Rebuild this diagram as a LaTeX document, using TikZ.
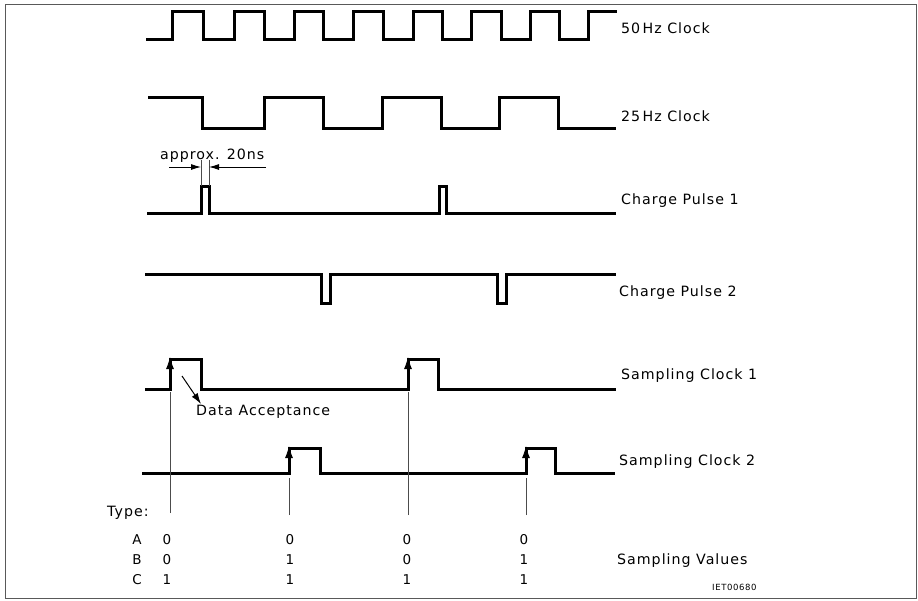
\documentclass[tikz,border=0pt]{standalone}
\usepackage{fontspec}
\setmainfont{DejaVu Sans}[LetterSpace=7]
\usetikzlibrary{arrows.meta}
\begin{document}
\begin{tikzpicture}[x=1pt,y=-1pt,
  sig/.style={line width=3pt, line join=miter, line cap=rect},
  thinline/.style={line width=0.8pt, black!70},
  edgearrow/.style={line width=0.8pt, -{Latex[length=12pt,width=8pt]}},
  lbl/.style={anchor=west, inner sep=0pt, font=\fontsize{14.2}{16}\selectfont},
  val/.style={inner sep=0pt, font=\fontsize{13.5}{15}\selectfont},
  dimarrow/.style={line width=0.9pt, -{Latex[length=10pt,width=6pt]}}]
\useasboundingbox (0,0) rectangle (918,600);
\draw[line width=1pt, black!65] (5,4) rectangle (916,598);

% 50 Hz clock
\draw[sig] (147,39) -- (172,39) |- (203,11) |- (234,39) |- (264,11) |- (294,39)
  |- (323,11) |- (353,39) |- (383,11) |- (413,39) |- (442,11) |- (471,39)
  |- (501,11) |- (530,39) |- (559,11) |- (588,39) |- (615,11);
% 25 Hz clock
\draw[sig] (149,97) -- (202,97) |- (264,128) |- (323,97) |- (382,128) |- (441,97)
  |- (499,128) |- (558,97) |- (614,128);
% Charge pulse 1
\draw[sig] (148,213) -- (201,213) |- (209,186) |- (439,213) |- (446,186) |- (614,213);
% Charge pulse 2
\draw[sig] (146,274) -- (321,274) |- (330,303) |- (497,274) |- (506,303) |- (614,274);
% Sampling clock 1
\draw[sig] (146,389) -- (170,389) |- (201,359) |- (408,389) |- (438,359) |- (614,389);
% Sampling clock 2
\draw[sig] (143,473) -- (289,473) |- (320,448) |- (526,473) |- (555,448) |- (613,473);

% sampling instants
\coordinate (s1b) at (170,513); \coordinate (s1t) at (170,357);
\coordinate (s2b) at (289,515); \coordinate (s2t) at (289,446);
\coordinate (s3b) at (408,515); \coordinate (s3t) at (408,357);
\coordinate (s4b) at (526,515); \coordinate (s4t) at (526,446);
\draw[thinline] (s1b) -- (170,392);
\draw[thinline] (s3b) -- (408,392);
\draw[thinline] (s2b) -- (289,478);
\draw[thinline] (s4b) -- (526,478);
\draw[edgearrow] (170,385) -- (s1t);
\draw[edgearrow] (408,385) -- (s3t);
\draw[edgearrow] (289,470) -- (s2t);
\draw[edgearrow] (526,470) -- (s4t);

% approx. 20ns dimension
\coordinate (e1t) at (201,160); \coordinate (e1b) at (201,186);
\coordinate (e2t) at (209,160); \coordinate (e2b) at (209,186);
\draw[thinline] (e1t) -- (e1b);
\draw[thinline] (e2t) -- (e2b);
\coordinate (d1) at (169,167); \coordinate (d1e) at (201,167);
\coordinate (d2) at (266,167); \coordinate (d2e) at (209,167);
\draw[dimarrow] (d1) -- (d1e);
\draw[dimarrow] (d2) -- (d2e);
\node[lbl] (approx) at (160,156) {approx. 20ns};

% Data acceptance
\node[lbl] (data) at (196,412) {Data Acceptance};
\coordinate (da1) at (182,376);
\coordinate (da2) at (201,404);
\draw[line width=1pt, -{Latex[length=11pt,width=7pt]}] (da1) -- (da2);

% signal labels
\node[lbl] (l50) at (621,28) {50\,Hz Clock};
\node[lbl] (l25) at (621,116) {25\,Hz Clock};
\node[lbl] (lcp1) at (621,201) {Charge Pulse 1};
\node[lbl] (lcp2) at (619,293) {Charge Pulse 2};
\node[lbl] (lsc1) at (621,376) {Sampling Clock 1};
\node[lbl] (lsc2) at (619,462) {Sampling Clock 2};
\node[lbl] (lsv) at (617,561) {Sampling Values};
\node[anchor=west, inner sep=0pt, font=\fontsize{8.5}{9}\selectfont] (code) at (712,587) {IET00680};

% type table
\node[lbl] (type) at (107,513) {Type:};
\node[val] (ra) at (137,540) {A};
\node[val] (rb) at (137,560) {B};
\node[val] (rc) at (137,580) {C};
\node[val] (a1) at (167,540) {0};
\node[val] (b1) at (167,560) {0};
\node[val] (c1) at (167,580) {1};
\node[val] (a2) at (290,540) {0};
\node[val] (b2) at (290,560) {1};
\node[val] (c2) at (290,580) {1};
\node[val] (a3) at (407,540) {0};
\node[val] (b3) at (407,560) {0};
\node[val] (c3) at (407,580) {1};
\node[val] (a4) at (524,540) {0};
\node[val] (b4) at (524,560) {1};
\node[val] (c4) at (524,580) {1};
\end{tikzpicture}
\end{document}
